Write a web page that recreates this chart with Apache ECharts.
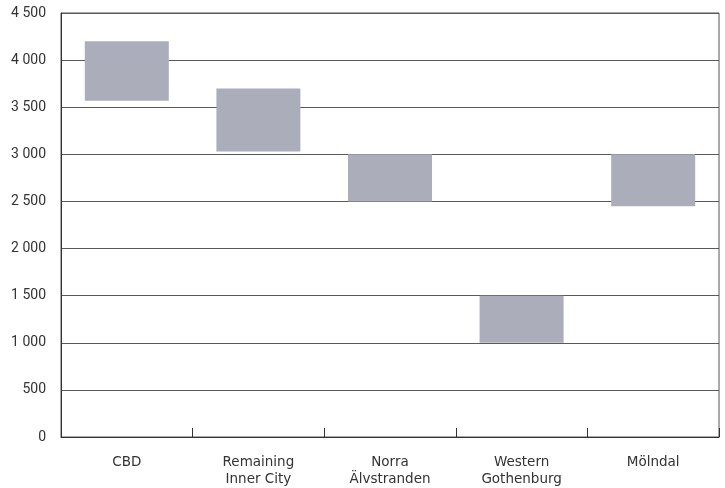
<!DOCTYPE html>
<html>
<head>
<meta charset="utf-8">
<script src="https://cdn.jsdelivr.net/npm/echarts@6/dist/echarts.min.js"></script>
<style>
html,body{margin:0;padding:0;background:#fff;}
#chart{width:725px;height:488px;}
</style>
</head>
<body>
<div id="chart"></div>
<script>
const categories = ['CBD', 'Remaining\nInner City', 'Norra\nÄlvstranden', 'Western\nGothenburg', 'Mölndal'];
const lowValues = [3570, 3030, 2500, 1000, 2450];
const highValues = [4200, 3700, 3000, 1500, 3000];
const yTicks = [0, 500, 1000, 1500, 2000, 2500, 3000, 3500, 4000, 4500];

const rangeValues = highValues.map((h, i) => h - lowValues[i]);
const fmt = v => String(v).replace(/\B(?=(\d{3})+(?!\d))/g, ' ');

const chart = echarts.init(document.getElementById('chart'), null, {renderer: 'canvas'});
chart.setOption({
  animation: false,
  backgroundColor: '#fff',
  textStyle: {fontFamily: 'Roboto'},
  grid: {left: 61, right: 6, top: 13, bottom: 51, show: true, borderColor: '#555', borderWidth: 1, containLabel: false},
  xAxis: {
    type: 'category',
    data: categories,
    axisLine: {show: true, lineStyle: {color: '#333', width: 1}},
    axisTick: {show: true, inside: true, length: 9, lineStyle: {color: '#333'}},
    axisLabel: {color: '#333', fontSize: 13.5, margin: 17, lineHeight: 17, fontFamily: 'DejaVu Sans'},
    splitLine: {show: false}
  },
  yAxis: {
    type: 'value',
    min: yTicks[0],
    max: yTicks[yTicks.length - 1],
    interval: 500,
    axisLine: {show: true, lineStyle: {color: '#333', width: 1}},
    axisTick: {show: false},
    axisLabel: {color: '#333', fontSize: 14, margin: 15, formatter: v => fmt(v), fontFamily: 'Roboto'},
    splitLine: {show: true, lineStyle: {color: '#5a5a5a', width: 1}}
  },
  series: [
    {
      type: 'bar',
      stack: 'r',
      data: lowValues,
      barWidth: 84,
      itemStyle: {color: 'transparent'},
      silent: true
    },
    {
      type: 'bar',
      stack: 'r',
      data: rangeValues,
      barWidth: 84,
      itemStyle: {color: '#abadbb'}
    }
  ]
});
</script>
</body>
</html>
